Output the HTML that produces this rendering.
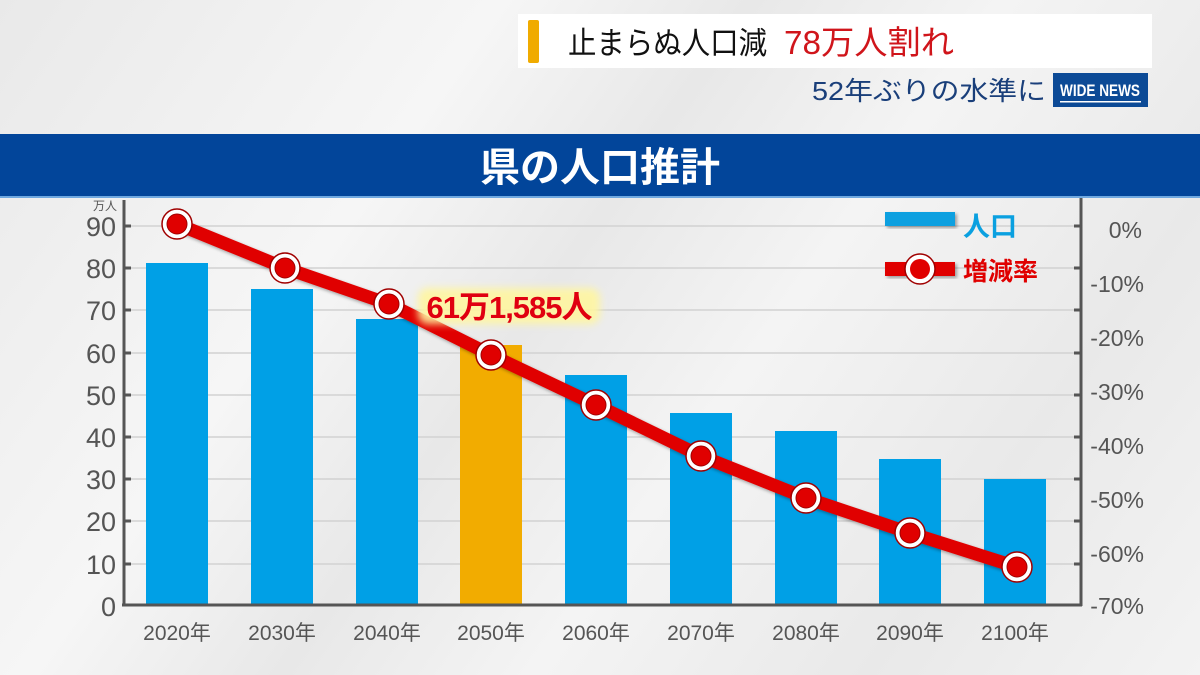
<!DOCTYPE html>
<html><head><meta charset="utf-8"><style>
html,body{margin:0;padding:0;width:1200px;height:675px;overflow:hidden;}
body{background:linear-gradient(125deg,#e9e9e9 0%,#f6f6f6 30%,#e8e8e8 45%,#f4f4f4 60%,#e9e9e9 80%,#f3f3f3 100%);}
svg{display:block;font-family:"Liberation Sans","Noto Sans CJK JP",sans-serif;}
</style></head><body>
<svg width="1200" height="675" viewBox="0 0 1200 675">
<defs>
<filter id="glow" x="-20%" y="-40%" width="140%" height="180%"><feGaussianBlur stdDeviation="4"/></filter>
<filter id="sh" x="-10%" y="-10%" width="120%" height="130%"><feDropShadow dx="2" dy="2" stdDeviation="1.5" flood-color="#000" flood-opacity="0.35"/></filter>
</defs>
<!-- top caption -->
<rect x="518" y="14" width="634" height="54" fill="#fff"/>
<rect x="528" y="20" width="11" height="43" rx="2" fill="#f0ab00"/>
<text x="568" y="54" font-size="31" fill="#111" textLength="199" lengthAdjust="spacingAndGlyphs">止まらぬ人口減</text>
<text x="784" y="54" font-size="33" fill="#d0151b" textLength="170" lengthAdjust="spacingAndGlyphs">78万人割れ</text>
<text x="1046" y="100" font-size="26" fill="#1a3f7a" text-anchor="end" textLength="234" lengthAdjust="spacingAndGlyphs">52年ぶりの水準に</text>
<rect x="1053" y="73" width="95" height="34" fill="#0c4a96"/>
<text x="1100" y="96" font-size="17" fill="#fff" font-weight="bold" text-anchor="middle" transform="translate(1100 0) scale(0.8 1) translate(-1100 0)">WIDE NEWS</text>
<rect x="1060" y="101" width="81" height="1.5" fill="#fff"/>
<!-- band -->
<rect x="0" y="134" width="1200" height="62" fill="#02459a"/>
<rect x="0" y="196" width="1200" height="2" fill="#6fa8e0"/>
<text x="600" y="181" font-size="40" fill="#fff" font-weight="bold" text-anchor="middle">県の人口推計</text>
<!-- grid -->
<g stroke="#d2d2d2" stroke-width="1.5">
<line x1="125" y1="226" x2="1081" y2="226"/><line x1="125" y1="268" x2="1081" y2="268"/>
<line x1="125" y1="310" x2="1081" y2="310"/><line x1="125" y1="353" x2="1081" y2="353"/>
<line x1="125" y1="395" x2="1081" y2="395"/><line x1="125" y1="437" x2="1081" y2="437"/>
<line x1="125" y1="479" x2="1081" y2="479"/><line x1="125" y1="521" x2="1081" y2="521"/>
<line x1="125" y1="564" x2="1081" y2="564"/>
</g>
<!-- bars -->
<g fill="#00a0e6">
<rect x="146" y="263" width="62" height="342"/>
<rect x="251" y="289" width="62" height="316"/>
<rect x="356" y="319" width="62" height="286"/>
<rect x="565" y="375" width="62" height="230"/>
<rect x="670" y="413" width="62" height="192"/>
<rect x="775" y="431" width="62" height="174"/>
<rect x="879" y="459" width="62" height="146"/>
<rect x="984" y="479" width="62" height="126"/>
</g>
<rect x="460" y="345" width="62" height="260" fill="#f2ac00"/>
<!-- axes -->
<g stroke="#555" stroke-width="3" fill="none">
<line x1="124" y1="200" x2="124" y2="606"/>
<line x1="122" y1="605" x2="1082" y2="605"/>
<line x1="1081" y1="198" x2="1081" y2="606"/>
</g>
<g stroke="#555" stroke-width="3">
<line x1="124" y1="226" x2="131" y2="226"/><line x1="124" y1="268" x2="131" y2="268"/><line x1="124" y1="310" x2="131" y2="310"/><line x1="124" y1="353" x2="131" y2="353"/><line x1="124" y1="395" x2="131" y2="395"/><line x1="124" y1="437" x2="131" y2="437"/><line x1="124" y1="479" x2="131" y2="479"/><line x1="124" y1="521" x2="131" y2="521"/><line x1="124" y1="564" x2="131" y2="564"/>
<line x1="1074" y1="226" x2="1081" y2="226"/><line x1="1074" y1="268" x2="1081" y2="268"/><line x1="1074" y1="310" x2="1081" y2="310"/><line x1="1074" y1="353" x2="1081" y2="353"/><line x1="1074" y1="395" x2="1081" y2="395"/><line x1="1074" y1="437" x2="1081" y2="437"/><line x1="1074" y1="479" x2="1081" y2="479"/><line x1="1074" y1="521" x2="1081" y2="521"/><line x1="1074" y1="564" x2="1081" y2="564"/>
</g>
<!-- left labels -->
<g font-size="27" fill="#555" text-anchor="end">
<text x="116" y="236">90</text><text x="116" y="278">80</text><text x="116" y="320">70</text><text x="116" y="363">60</text><text x="116" y="405">50</text><text x="116" y="447">40</text><text x="116" y="489">30</text><text x="116" y="531">20</text><text x="116" y="574">10</text><text x="116" y="616">0</text>
</g>
<text x="105" y="210" font-size="12" fill="#555" text-anchor="middle">万人</text>
<!-- right labels -->
<g font-size="23" fill="#555" text-anchor="end">
<text x="1142" y="238">0%</text><text x="1144" y="292">-10%</text><text x="1144" y="346">-20%</text><text x="1144" y="400">-30%</text><text x="1144" y="454">-40%</text><text x="1144" y="508">-50%</text><text x="1144" y="562">-60%</text><text x="1144" y="614">-70%</text>
</g>
<!-- x labels -->
<g font-size="21" fill="#555" text-anchor="middle">
<text x="177" y="640">2020年</text><text x="282" y="640">2030年</text><text x="387" y="640">2040年</text><text x="491" y="640">2050年</text><text x="596" y="640">2060年</text><text x="701" y="640">2070年</text><text x="806" y="640">2080年</text><text x="910" y="640">2090年</text><text x="1015" y="640">2100年</text>
</g>
<!-- line -->
<polyline points="177,224 285,268 389,304 491,355 596,405 701,456 806,498 910,533 1017,567" fill="none" stroke="#e00000" stroke-width="13" stroke-linejoin="round" filter="url(#sh)"/>
<g>
<g fill="#fff" stroke="#a00000" stroke-width="1.5">
<circle cx="177" cy="224" r="15"/><circle cx="285" cy="268" r="15"/><circle cx="389" cy="304" r="15"/><circle cx="491" cy="355" r="15"/><circle cx="596" cy="405" r="15"/><circle cx="701" cy="456" r="15"/><circle cx="806" cy="498" r="15"/><circle cx="910" cy="533" r="15"/><circle cx="1017" cy="567" r="15"/>
</g>
<g fill="#e00000" stroke="#a00000" stroke-width="1">
<circle cx="177" cy="224" r="10"/><circle cx="285" cy="268" r="10"/><circle cx="389" cy="304" r="10"/><circle cx="491" cy="355" r="10"/><circle cx="596" cy="405" r="10"/><circle cx="701" cy="456" r="10"/><circle cx="806" cy="498" r="10"/><circle cx="910" cy="533" r="10"/><circle cx="1017" cy="567" r="10"/>
</g>
</g>
<!-- callout -->
<rect x="418" y="288" width="182" height="36" rx="10" fill="#fff6a0" filter="url(#glow)" opacity="0.9"/>
<text x="509" y="318" font-size="31" fill="#e00010" font-weight="bold" text-anchor="middle" letter-spacing="-1">61万1,585人</text>
<!-- legend -->
<rect x="885" y="212" width="70" height="14" fill="#0aa0e0" filter="url(#sh)"/>
<text x="963" y="236" font-size="27" fill="#0aa0e0" font-weight="bold">人口</text>
<rect x="885" y="262" width="70" height="14" fill="#e00000" filter="url(#sh)"/>
<circle cx="920" cy="269" r="15" fill="#fff" stroke="#a00000" stroke-width="1.5"/>
<circle cx="920" cy="269" r="10" fill="#e00000"/>
<text x="963" y="280" font-size="25" fill="#e00000" font-weight="bold">増減率</text>
</svg>
</body></html>
